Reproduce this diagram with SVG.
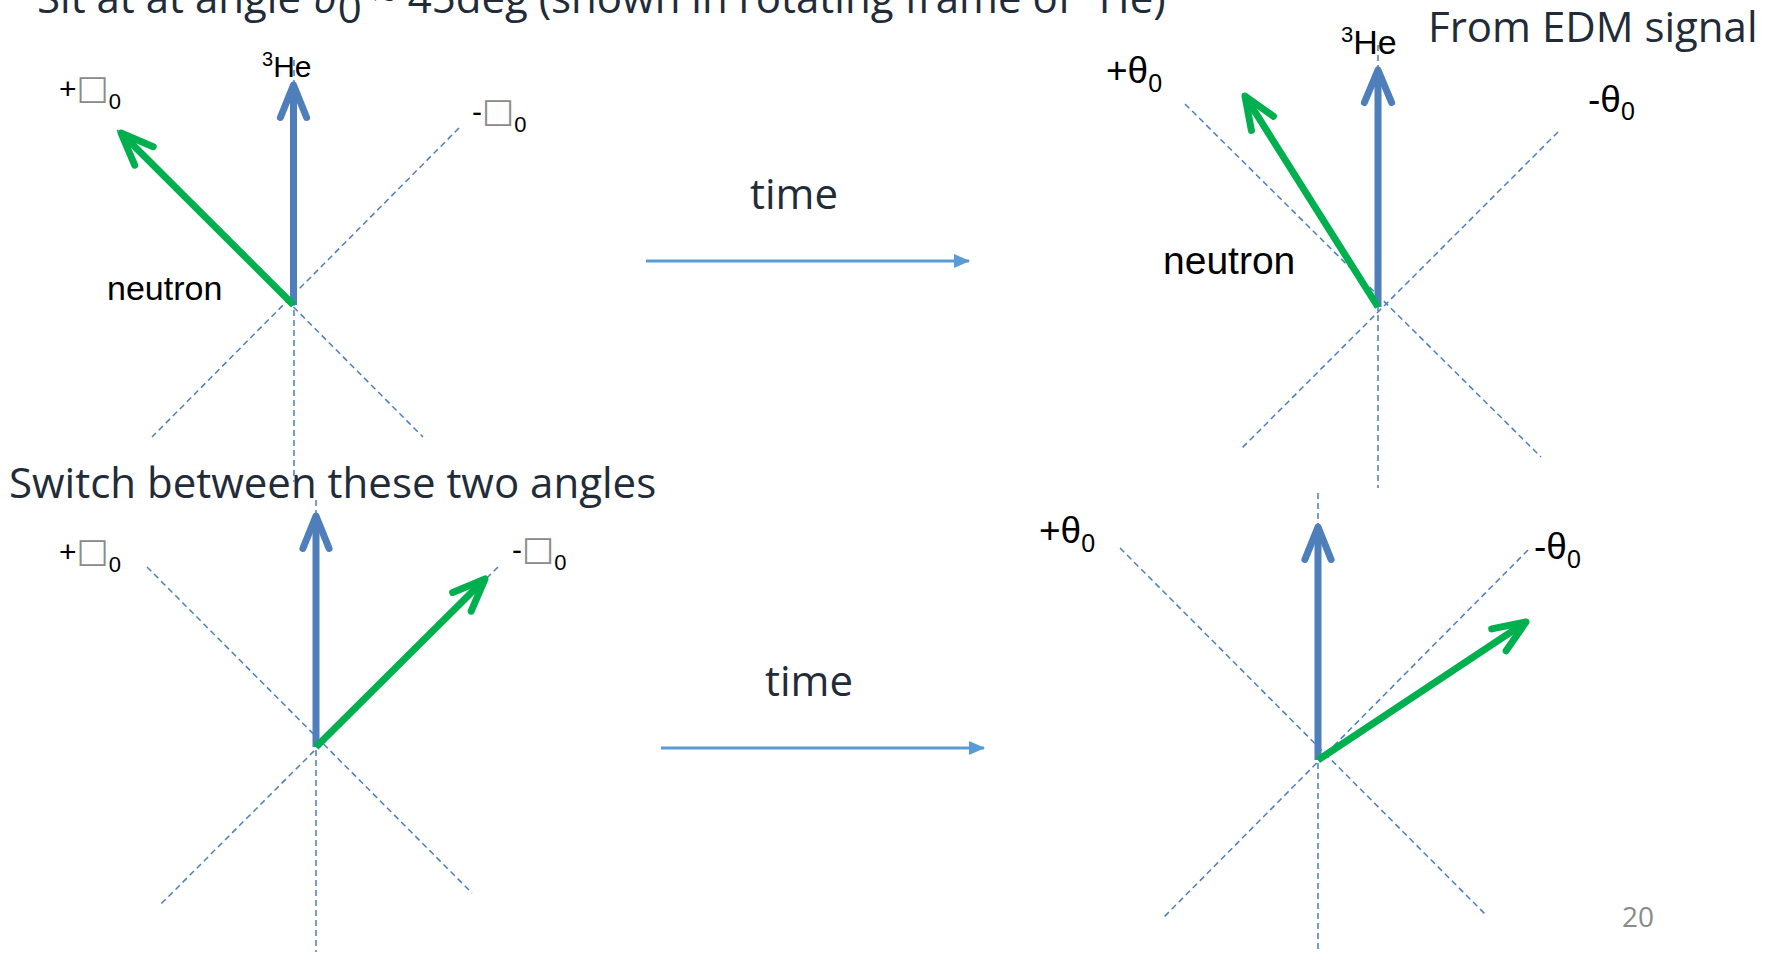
<svg xmlns="http://www.w3.org/2000/svg" width="1770" height="955" viewBox="0 0 1770 955">
<style>
.big{font-family:"Open Sans","Liberation Sans",sans-serif;font-size:42px;fill:#222b38}
.lbl{font-family:"Liberation Sans","DejaVu Sans",sans-serif;fill:#000}
.box{fill:#8a8a8a;font-family:"DejaVu Sans",sans-serif;font-size:34px}
.dash{stroke:#4a7ec4;stroke-width:1.5;stroke-dasharray:6 4;fill:none}
.blue{stroke:#4f7fbb;stroke-width:7;fill:none;stroke-linecap:butt}
.green{stroke:#00b04f;stroke-width:7;fill:none;stroke-linecap:butt}
.head{stroke-linecap:round;stroke-linejoin:round;fill:none;stroke-width:7}
.time{stroke:#5b9bd5;stroke-width:3;fill:none}
.pg{font-family:"Open Sans",sans-serif;font-size:28px;fill:#8a8a8a}
</style>
<defs>
<marker id="tri" markerWidth="16" markerHeight="14" refX="15" refY="7" orient="auto" markerUnits="userSpaceOnUse">
<path d="M0,0 L16,7 L0,14 Z" fill="#5b9bd5"/>
</marker>
</defs>

<g id="title">
<text class="big" x="37" y="13">Sit at at angle ϑ<tspan dy="10">0</tspan><tspan dy="-10"> ~ 45deg (shown in rotating frame of </tspan><tspan font-size="28" dy="-14">3</tspan><tspan dy="14">He)</tspan></text>
</g>
<g id="from-edm"><text class="big" x="1428" y="42">From EDM signal</text></g>
<g id="switch"><text class="big" x="9" y="498">Switch between these two angles</text></g>
<g id="time1"><text class="big" x="750" y="209">time</text></g>
<g id="time2"><text class="big" x="765" y="696">time</text></g>
<g id="page"><text class="pg" x="1622" y="927">20</text></g>

<!-- Top-left diagram -->
<g id="diagram-tl">
<line class="dash" x1="294" y1="60" x2="294" y2="482"/>
<line class="dash" x1="117" y1="130" x2="423" y2="437"/>
<line class="dash" x1="459" y1="128" x2="152" y2="437"/>
<line class="blue" x1="293.5" y1="305" x2="293.5" y2="86"/>
<polyline class="head" stroke="#4f7fbb" points="280.4,117.5 293.5,85 306.6,117.5"/>
<line class="green" x1="293.5" y1="305" x2="122" y2="134"/>
<polyline class="head" stroke="#00b04f" points="134.7,165.2 121,133 153.2,146.7"/>
<text class="lbl" x="262" y="77" font-size="30"><tspan font-size="20" dy="-11">3</tspan><tspan dy="11">He</tspan></text>
<text class="lbl" x="59" y="99" font-size="30">+<tspan class="box">□</tspan><tspan font-size="22" dy="10">0</tspan></text>
<text class="lbl" x="472" y="122" font-size="30">-<tspan class="box">□</tspan><tspan font-size="22" dy="10">0</tspan></text>
<text class="lbl" x="107" y="300" font-size="34">neutron</text>
</g>

<!-- Top-right diagram -->
<g id="diagram-tr">
<line class="dash" x1="1378" y1="45" x2="1378" y2="488"/>
<line class="dash" x1="1185" y1="104" x2="1541" y2="457"/>
<line class="dash" x1="1558" y1="132" x2="1242" y2="448"/>
<line class="blue" x1="1378" y1="307" x2="1378" y2="71"/>
<polyline class="head" stroke="#4f7fbb" points="1364.4,102.5 1378,70 1391.6,102.5"/>
<line class="green" x1="1378" y1="307" x2="1245.6" y2="97"/>
<polyline class="head" stroke="#00b04f" points="1251.4,130.4 1245,96 1273.5,116.3"/>
<text class="lbl" x="1341" y="54" font-size="34"><tspan font-size="22" dy="-12">3</tspan><tspan dy="12">He</tspan></text>
<text class="lbl" x="1106" y="83" font-size="37">+θ<tspan font-size="25" dy="9">0</tspan></text>
<text class="lbl" x="1588" y="112" font-size="37">-θ<tspan font-size="25" dy="8">0</tspan></text>
<text class="lbl" x="1163" y="274" font-size="39">neutron</text>
</g>

<!-- Bottom-left diagram -->
<g id="diagram-bl">
<line class="dash" x1="316" y1="500" x2="316" y2="952"/>
<line class="dash" x1="147" y1="567" x2="472" y2="893"/>
<line class="dash" x1="498" y1="567" x2="160" y2="905"/>
<line class="blue" x1="316" y1="747" x2="316" y2="517"/>
<polyline class="head" stroke="#4f7fbb" points="302.9,548.5 316,516 329.1,548.5"/>
<line class="green" x1="316" y1="747" x2="484" y2="580"/>
<polyline class="head" stroke="#00b04f" points="452.7,592.6 485,579 471.2,611.2"/>
<text class="lbl" x="59" y="562" font-size="30">+<tspan class="box">□</tspan><tspan font-size="22" dy="10">0</tspan></text>
<text class="lbl" x="512" y="560" font-size="30">-<tspan class="box">□</tspan><tspan font-size="22" dy="10">0</tspan></text>
</g>

<!-- Bottom-right diagram -->
<g id="diagram-br">
<line class="dash" x1="1318" y1="493" x2="1318" y2="953"/>
<line class="dash" x1="1120" y1="548" x2="1486" y2="915"/>
<line class="dash" x1="1528" y1="550" x2="1164" y2="917"/>
<line class="blue" x1="1318" y1="760" x2="1318" y2="528"/>
<polyline class="head" stroke="#4f7fbb" points="1304.9,559.5 1318,527 1331.1,559.5"/>
<line class="green" x1="1318" y1="760" x2="1525" y2="622.6"/>
<polyline class="head" stroke="#00b04f" points="1491.7,628.9 1526,622 1506.1,650.8"/>
<text class="lbl" x="1039" y="543" font-size="37">+θ<tspan font-size="25" dy="9">0</tspan></text>
<text class="lbl" x="1534" y="559" font-size="37">-θ<tspan font-size="25" dy="9">0</tspan></text>
</g>

<g id="connectors">
<line class="time" x1="646" y1="261" x2="969" y2="261" marker-end="url(#tri)"/>
<line class="time" x1="661" y1="748" x2="984" y2="748" marker-end="url(#tri)"/>
</g>
</svg>
